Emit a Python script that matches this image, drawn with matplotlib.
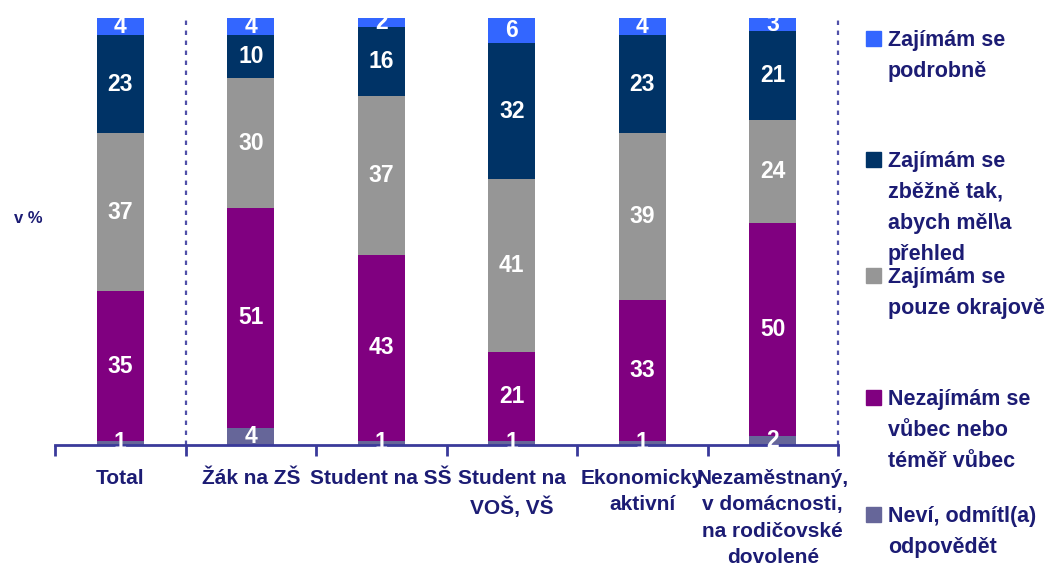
import numpy as np
import matplotlib.pyplot as plt
from matplotlib.patches import Rectangle

plt.rcParams['font.family'] = ['Liberation Sans', 'DejaVu Sans']

# data (bottom -> top)
categories = ['Total', 'Žák na ZŠ', 'Student na SŠ', 'Student na\nVOŠ, VŠ',
              'Ekonomicky\naktivní', 'Nezaměstnaný,\nv domácnosti,\nna rodičovské\ndovolené']
nevi = [1, 4, 1, 1, 1, 2]
nezajimam = [35, 51, 43, 21, 33, 50]
okrajove = [37, 30, 37, 41, 39, 24]
zbezne = [23, 10, 16, 32, 23, 21]
podrobne = [4, 4, 2, 6, 4, 3]

series = [nevi, nezajimam, okrajove, zbezne, podrobne]
colors = ['#666699', '#800080', '#969696', '#003366', '#3366FF']
legend_labels = ['Neví, odmítl(a)\nodpovědět',
                 'Nezajímám se\nvůbec nebo\ntéměř vůbec',
                 'Zajímám se\npouze okrajově',
                 'Zajímám se\nzběžně tak,\nabych měl\\a\npřehled',
                 'Zajímám se\npodrobně']

navy = '#1C1C74'
axis_col = '#3a3a9a'

fig = plt.figure(figsize=(10.5, 5.75), dpi=100)
ax = fig.add_axes([55/1050, 130/575, (838-55)/1050, 427/575])

# 100% stacked: each column scaled to full height
totals = np.sum(np.array(series, dtype=float), axis=0)

x = np.arange(len(categories))
bottom = np.zeros(len(categories))
for vals, col in zip(series, colors):
    raw = np.array(vals, dtype=float)
    h = raw / totals * 100
    ax.bar(x, h, width=0.36, bottom=bottom, color=col, clip_on=False, zorder=2)
    for xi, b, hh, v in zip(x, bottom, h, raw):
        ax.text(xi, b + hh/2, f'{int(v)}', ha='center', va='center', color='white',
                fontsize=16.5, fontweight='bold', zorder=3, clip_on=False)
    bottom += h

ax.set_xlim(-0.5, len(categories) - 0.5)
ax.set_ylim(0, 100)
for s in ['top', 'right', 'left']:
    ax.spines[s].set_visible(False)
ax.spines['bottom'].set_color(axis_col)
ax.spines['bottom'].set_linewidth(2)
ax.set_yticks([])

# boundaries ticks
ax.set_xticks(np.arange(-0.5, len(categories)), labels=[''] * (len(categories) + 1))
ax.tick_params(axis='x', which='major', length=8, width=2, color=axis_col)
ax.set_xticks(x, labels=categories, minor=True)
ax.tick_params(axis='x', which='minor', length=0, pad=17, labelsize=15,
               labelcolor=navy)
for lbl in ax.get_xticklabels(minor=True):
    lbl.set_fontweight('bold')
    lbl.set_linespacing(1.5)

# dotted separators
for xv in [0.5, len(categories) - 0.5]:
    ax.plot([xv, xv], [0, 100.7], color='#5050a8', linestyle=(0, (2, 2.5)),
            linewidth=1.6, clip_on=False, zorder=1)

fig.text(28/1050, 1 - 218/575, 'v %', ha='center', va='center', fontsize=12,
         fontweight='bold', color=navy)

# legend (manual)
leg_y = [514, 397, 275, 159, 38]
for lab, col, yy in zip(legend_labels, colors, leg_y):
    fig.patches.append(Rectangle((866/1050, 1 - (yy + 8)/575), 15/1050, 15/575,
                                 transform=fig.transFigure, color=col))
    fig.text(888/1050, 1 - (yy - 8)/575, lab, ha='left', va='top', fontsize=15.5,
             fontweight='bold', color=navy, linespacing=1.62)

fig.savefig('out.png', dpi=100)
